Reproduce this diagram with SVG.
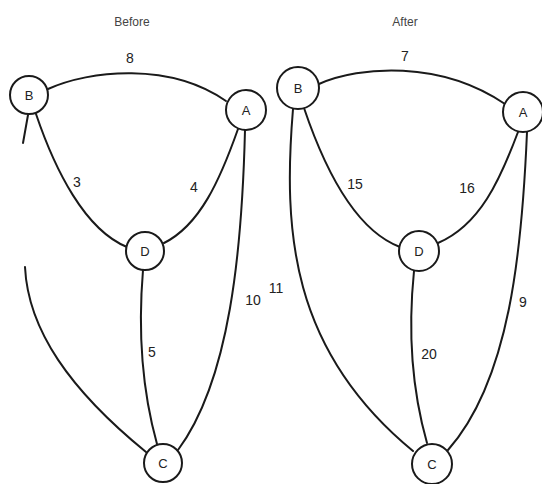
<svg xmlns="http://www.w3.org/2000/svg" width="542" height="484" viewBox="0 0 542 484">
<style>
.e{fill:none;stroke:#1a1a1a;stroke-width:2;stroke-linecap:round}
.n circle{fill:#fff;stroke:#1a1a1a;stroke-width:2}
.n text{font-family:"Liberation Sans",Arial,sans-serif;font-size:13px;fill:#222;text-anchor:middle;dominant-baseline:central}
.l{font-family:"Liberation Sans",Arial,sans-serif;font-size:14px;fill:#222;text-anchor:middle;dominant-baseline:central}
.t{font-family:"Liberation Sans",Arial,sans-serif;font-size:12px;fill:#444;text-anchor:middle;dominant-baseline:central}
</style>
<rect width="542" height="484" fill="#fff"/>
<text class="t" x="132" y="22">Before</text>
<text class="t" x="405" y="22">After</text>
<g id="connectors">
<path class="e" d="M48,89 C90,70 170,62 226,101"/>
<path class="e" d="M36,114 C55,170 85,230 127,247"/>
<path class="e" d="M238,129 C220,180 200,225 164,243"/>
<path class="e" d="M245,130 C242,250 230,380 178,450"/>
<path class="e" d="M143,270 C138,330 142,390 157,444"/>
<path class="e" d="M28,115 L23,143"/>
<path class="e" d="M25,267 C28,330 70,390 146,452"/>
<path class="e" d="M319,84 C360,66 440,60 505,104"/>
<path class="e" d="M304,108 C325,170 355,230 400,247"/>
<path class="e" d="M518,132 C500,180 480,225 438,243"/>
<path class="e" d="M527,132 C522,250 510,380 448,450"/>
<path class="e" d="M414,271 C408,330 412,390 427,443"/>
<path class="e" d="M293,109 C283,230 290,350 413,451"/>
<text class="l" x="130" y="58">8</text>
<text class="l" x="77" y="182">3</text>
<text class="l" x="194" y="187">4</text>
<text class="l" x="253" y="300">10</text>
<text class="l" x="152" y="352">5</text>
<text class="l" x="405" y="56">7</text>
<text class="l" x="355" y="184">15</text>
<text class="l" x="467" y="188">16</text>
<text class="l" x="523" y="302">9</text>
<text class="l" x="429" y="354">20</text>
<text class="l" x="276" y="288">11</text>
</g>
<g id="before-B" class="n"><circle cx="29" cy="95" r="19"/><text x="29" y="95">B</text></g>
<g id="before-A" class="n"><circle cx="246" cy="110" r="20"/><text x="246" y="110">A</text></g>
<g id="before-D" class="n"><circle cx="145" cy="251" r="19"/><text x="145" y="251">D</text></g>
<g id="before-C" class="n"><circle cx="163" cy="463" r="19"/><text x="163" y="463">C</text></g>
<g id="after-B" class="n"><circle cx="298" cy="88" r="21"/><text x="298" y="88">B</text></g>
<g id="after-A" class="n"><circle cx="523" cy="112" r="20"/><text x="523" y="112">A</text></g>
<g id="after-D" class="n"><circle cx="419" cy="251" r="20"/><text x="419" y="251">D</text></g>
<g id="after-C" class="n"><circle cx="432" cy="464" r="20"/><text x="432" y="464">C</text></g>
</svg>
